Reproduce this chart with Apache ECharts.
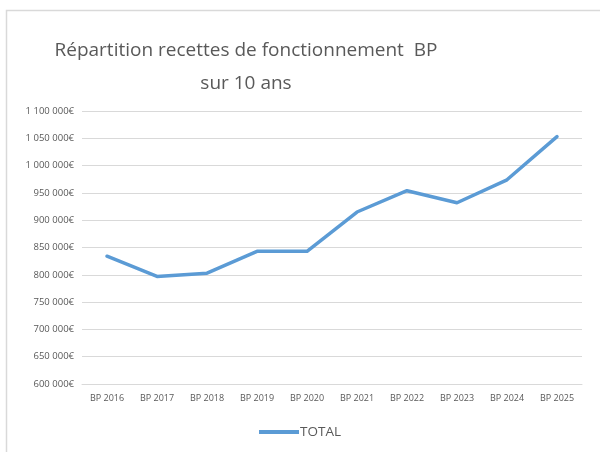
<!DOCTYPE html>
<html>
<head>
<meta charset="utf-8">
<script src="https://cdn.jsdelivr.net/npm/echarts@6/dist/echarts.min.js"></script>
<style>
  html, body { margin: 0; padding: 0; background: #fff; }
  #chart { width: 600px; height: 452px; }
</style>
</head>
<body>
<div id="chart"></div>
<script>
// données
const annees = ['BP 2016', 'BP 2017', 'BP 2018', 'BP 2019', 'BP 2020',
  'BP 2021', 'BP 2022', 'BP 2023', 'BP 2024', 'BP 2025'];
const total = [834000, 797000, 803000, 843000, 843000, 915000, 954000, 932000, 974000, 1053000];
const serieNom = 'TOTAL';

function euros(v) {
  return String(v).replace(/\B(?=(\d{3})+(?!\d))/g, ' ') + '€';
}

const chart = echarts.init(document.getElementById('chart'));
const option = {
  animation: false,
  graphic: [
    {
      type: 'rect',
      shape: { x: 6.5, y: 10.5, width: 620, height: 480 },
      style: { fill: 'none', stroke: '#d9d9d9', lineWidth: 1.5 },
      silent: true
    }
  ],
  title: {
    text: 'Répartition recettes de fonctionnement  BP\nsur 10 ans',
    left: 241,
    textAlign: 'center',
    top: 29,
    textStyle: {
      fontFamily: 'Open Sans',
      fontWeight: 'normal',
      fontSize: 19,
      color: '#595959',
      lineHeight: 33
    }
  },
  legend: {
    bottom: 8,
    left: 'center',
    itemWidth: 40,
    itemHeight: 4,
    itemGap: 2,
    icon: 'rect',
    textStyle: { fontFamily: 'Open Sans', fontSize: 13.5, color: '#595959', padding: [0, 0, 0, -4] },
    data: [serieNom]
  },
  grid: { left: 82, right: 18, top: 111, bottom: 68 },
  xAxis: {
    type: 'category',
    data: annees,
    boundaryGap: true,
    axisLine: { lineStyle: { color: '#d9d9d9', width: 1 } },
    axisTick: { show: false },
    axisLabel: { fontFamily: 'Open Sans', fontSize: 9, color: '#595959', margin: 10 }
  },
  yAxis: {
    type: 'value',
    min: 600000,
    max: 1100000,
    interval: 50000,
    axisLine: { show: false },
    axisTick: { show: false },
    splitLine: { lineStyle: { color: '#d9d9d9', width: 1 } },
    axisLabel: {
      fontFamily: 'Open Sans', fontSize: 9.5, color: '#595959', margin: 8,
      formatter: euros
    }
  },
  series: [
    {
      name: serieNom,
      type: 'line',
      data: total,
      symbol: 'none',
      lineStyle: { color: '#5b9bd5', width: 3.5, cap: 'round', join: 'round' },
      itemStyle: { color: '#5b9bd5' }
    }
  ]
};
chart.setOption(option);
</script>
</body>
</html>
